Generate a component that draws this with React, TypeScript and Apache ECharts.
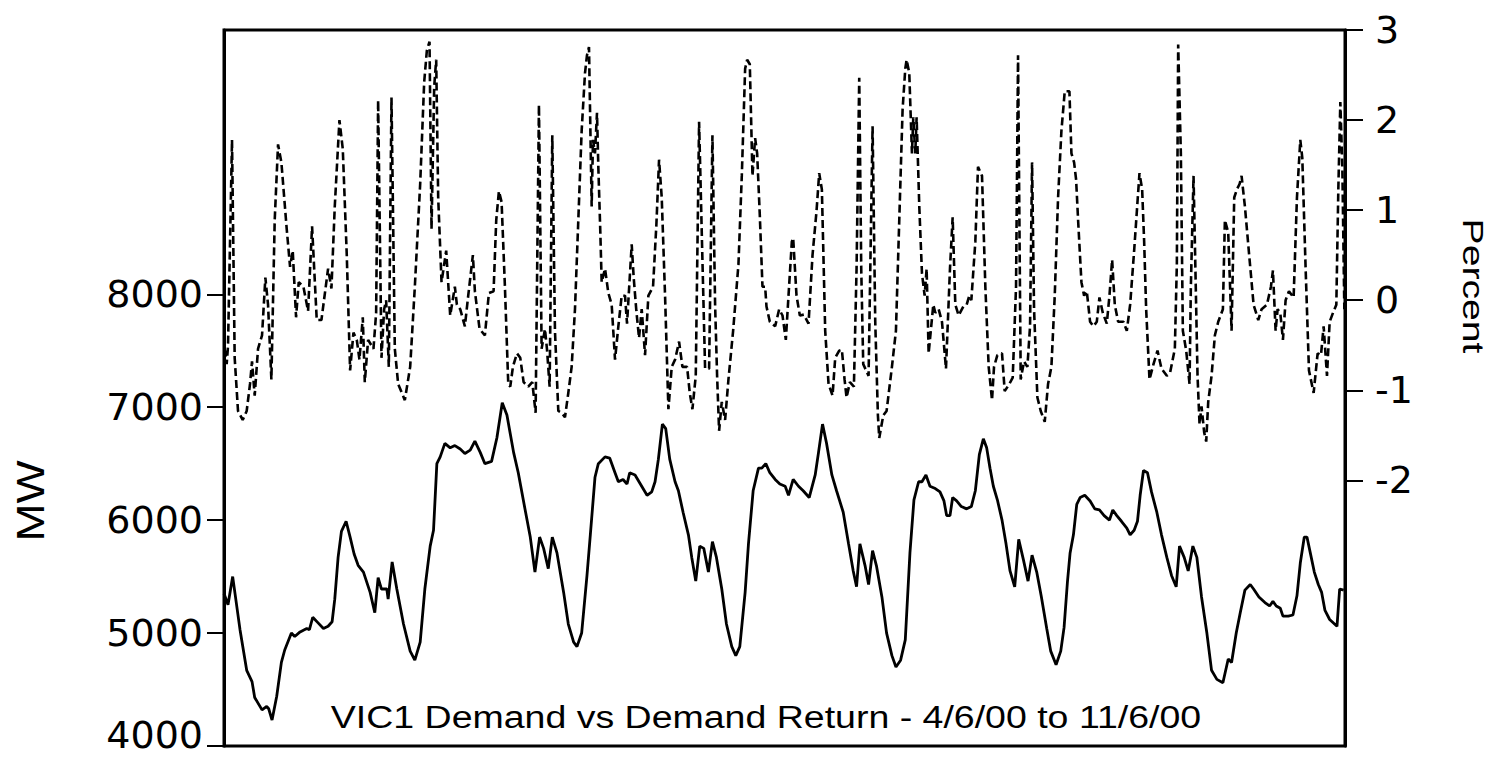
import React, { useEffect, useRef } from "react";
import * as echarts from "echarts";

// Demand (MW), [hour from start, MW]
const demand: [number, number][] = [
  [0.0,5350],[0.6,5250],[1.3,5500],[2.4,5030],[3.4,4670],[4.2,4570],[4.6,4430],[5.7,4320],[6.4,4350],[6.7,4330],
  [7.2,4230],[7.9,4440],[8.6,4740],[9.1,4850],[10.1,5000],[10.6,4970],[11.4,5010],[12.4,5040],[12.8,5030],[13.3,5140],
  [14.1,5090],[14.9,5040],[15.6,5060],[16.2,5100],[16.6,5300],[17.1,5670],[17.6,5900],[18.3,5990],[18.9,5850],[19.5,5700],
  [20.1,5600],[20.9,5540],[21.9,5360],[22.6,5180],[23.1,5490],[23.6,5390],[24.4,5390],[24.6,5300],[25.2,5630],[25.9,5390],
  [26.9,5080],[27.9,4840],[28.6,4760],[29.4,4920],[30.1,5390],[30.9,5770],[31.4,5910],[31.9,6500],[32.4,6560],[33.1,6680],
  [33.9,6640],[34.6,6660],[35.4,6630],[36.1,6590],[36.9,6620],[37.6,6700],[38.4,6600],[39.1,6500],[40.1,6520],[40.9,6730],
  [41.7,7040],[42.4,6930],[43.4,6600],[44.1,6420],[45.1,6100],[45.9,5850],[46.6,5540],[47.3,5850],[47.9,5750],[48.6,5570],
  [49.2,5850],[49.9,5710],[50.9,5360],[51.6,5080],[52.4,4920],[52.9,4880],[53.6,5000],[54.4,5510],[54.9,5870],[55.6,6380],
  [56.1,6500],[57.1,6560],[57.8,6550],[58.6,6420],[59.1,6340],[59.8,6360],[60.4,6320],[60.8,6420],[61.6,6400],[62.4,6320],
  [63.4,6220],[64.1,6250],[64.6,6340],[65.1,6540],[65.7,6850],[66.2,6810],[66.8,6540],[67.6,6340],[68.1,6260],[68.8,6070],
  [69.6,5870],[70.1,5670],[70.7,5460],[71.3,5770],[71.9,5750],[72.6,5540],[73.2,5810],[73.8,5670],[74.6,5390],[75.3,5080],
  [76.1,4880],[76.7,4800],[77.3,4880],[78.1,5360],[78.6,5790],[79.3,6260],[80.1,6460],[80.6,6460],[81.2,6500],[81.8,6420],
  [82.6,6360],[83.3,6320],[84.1,6300],[84.6,6220],[85.3,6360],[86.1,6300],[86.8,6260],[87.7,6200],[88.6,6400],[89.1,6600],
  [89.7,6850],[90.3,6680],[91.1,6400],[91.8,6260],[92.8,6070],[93.6,5790],[94.3,5550],[94.8,5410],[95.3,5790],[96.1,5590],
  [96.6,5430],[97.2,5730],[97.8,5590],[98.6,5320],[99.3,5000],[100.1,4800],[100.7,4700],[101.4,4760],[102.1,4940],[102.8,5710],
  [103.4,6180],[104.1,6340],[104.6,6340],[105.2,6400],[105.8,6300],[106.6,6280],[107.3,6250],[107.9,6170],[108.3,6040],[108.8,6040],
  [109.2,6200],[109.8,6170],[110.5,6120],[111.3,6100],[112.0,6120],[112.6,6260],[113.2,6580],[113.8,6720],[114.3,6640],[114.8,6460],
  [115.3,6300],[115.9,6180],[116.6,6000],[117.2,5790],[117.8,5550],[118.5,5410],[119.1,5830],[119.8,5650],[120.5,5460],[121.1,5690],
  [121.8,5540],[122.5,5320],[123.3,5040],[123.9,4840],[124.7,4720],[125.4,4840],[125.9,5050],[126.4,5450],[126.8,5710],[127.3,5870],
  [127.8,6140],[128.3,6200],[129.0,6220],[129.8,6170],[130.5,6100],[131.2,6090],[131.9,6040],[132.7,6000],[133.2,6090],[133.8,6040],
  [134.5,5990],[135.3,5930],[135.8,5870],[136.4,5910],[136.9,5990],[137.3,6220],[137.8,6440],[138.4,6420],[139.0,6250],[139.8,6070],
  [140.5,5870],[141.3,5670],[142.0,5510],[142.7,5410],[143.2,5770],[143.9,5670],[144.5,5550],[145.2,5770],[145.8,5670],[146.5,5320],
  [147.3,5000],[148.0,4670],[148.8,4590],[149.7,4560],[150.5,4770],[151.0,4740],[151.7,5000],[152.3,5180],[153.0,5380],[153.8,5430],
  [154.3,5390],[155.1,5320],[156.0,5270],[156.7,5240],[157.2,5280],[157.7,5240],[158.3,5220],[158.7,5150],[159.5,5150],[160.2,5160],
  [160.8,5330],[161.3,5620],[161.9,5850],[162.3,5850],[162.8,5710],[163.4,5540],[164.0,5430],[164.5,5360],[165.0,5200],[165.7,5120],
  [166.8,5060],[167.2,5390],[167.8,5380]
];

// Demand return (%), [hour from start, percent]
const demandReturn: [number, number][] = [
  [0.1,-0.54],[0.4,-0.71],[0.6,-0.51],[1.2,1.78],[1.6,-0.64],[2.1,-1.23],[2.8,-1.33],[3.4,-1.23],[3.9,-0.93],[4.2,-0.68],
  [4.6,-1.06],[5.1,-0.54],[5.7,-0.39],[6.2,0.25],[6.6,-0.05],[7.1,-0.88],[7.6,0.89],[8.1,1.73],[8.6,1.53],[9.4,0.79],
  [9.9,0.37],[10.3,0.55],[10.8,-0.19],[11.2,0.2],[11.9,0.15],[12.6,-0.12],[13.2,0.82],[13.9,-0.22],[14.6,-0.22],[15.6,0.35],
  [16.1,0.13],[16.6,1.04],[17.3,2.0],[17.8,1.68],[18.4,0.5],[18.9,-0.78],[19.4,-0.36],[19.9,-0.44],[20.3,-0.66],[20.8,-0.19],
  [21.1,-0.91],[21.6,-0.44],[22.4,-0.54],[22.8,-0.14],[23.1,2.22],[23.6,-0.64],[24.0,-0.1],[24.3,0.0],[24.7,-0.74],[25.1,2.25],
  [25.6,-0.54],[26.1,-0.93],[27.1,-1.11],[27.9,-0.74],[28.6,0.15],[29.4,1.29],[30.0,2.42],[30.4,2.77],[30.8,2.87],[31.1,0.79],
  [31.5,2.37],[31.8,2.67],[32.1,1.14],[32.6,0.2],[33.3,0.55],[33.9,-0.17],[34.6,0.15],[34.9,-0.05],[35.4,-0.1],[36.1,-0.29],
  [36.6,0.05],[37.3,0.5],[37.6,0.1],[38.3,-0.32],[39.1,-0.39],[39.7,0.08],[40.4,0.1],[40.8,0.89],[41.2,1.21],[41.6,1.09],
  [42.1,0.15],[42.6,-0.93],[42.9,-0.96],[43.3,-0.74],[43.9,-0.59],[44.4,-0.64],[44.9,-0.91],[45.6,-0.96],[46.2,-0.91],[46.7,-1.25],
  [47.2,2.17],[47.6,-0.54],[48.1,-0.32],[48.4,-0.54],[48.8,-0.96],[49.2,1.83],[49.6,-0.34],[50.1,-1.23],[50.6,-1.25],[51.1,-1.3],
  [51.6,-1.03],[52.1,-0.74],[52.6,-0.1],[53.1,0.89],[53.6,1.88],[54.1,2.52],[54.4,2.72],[54.7,2.81],[55.1,1.04],[55.3,1.78],
  [55.6,1.63],[55.9,2.08],[56.1,1.48],[56.4,0.75],[56.6,0.2],[57.1,0.35],[57.6,0.08],[58.1,-0.05],[58.6,-0.66],[59.1,-0.29],
  [59.6,0.05],[60.1,0.05],[60.4,-0.26],[61.1,0.62],[61.4,0.25],[61.8,-0.12],[62.2,-0.42],[62.6,-0.1],[63.1,-0.61],[63.6,0.05],
  [64.3,0.15],[64.8,0.84],[65.2,1.56],[65.6,1.14],[66.1,0.05],[66.6,-1.21],[67.1,-0.74],[67.6,-0.66],[68.2,-0.46],[68.7,-0.74],
  [69.4,-0.74],[69.8,-1.03],[70.2,-1.21],[70.7,-0.84],[71.2,1.98],[71.6,0.75],[72.1,-0.76],[72.7,-0.76],[73.2,1.83],[73.6,-0.05],
  [73.9,-0.84],[74.2,-1.45],[74.6,-1.13],[75.1,-1.33],[75.6,-0.88],[76.3,-0.34],[77.1,0.4],[77.6,1.38],[78.1,2.57],[78.4,2.67],
  [78.8,2.62],[79.2,1.38],[79.6,1.8],[79.9,1.63],[80.3,0.94],[80.7,0.15],[81.1,0.15],[81.3,-0.07],[81.8,-0.24],[82.6,-0.29],
  [83.2,-0.1],[83.7,-0.17],[84.2,-0.44],[84.6,0.05],[85.1,0.65],[85.3,0.69],[85.8,0.05],[86.3,-0.17],[86.9,-0.16],[87.6,-0.26],
  [88.2,0.5],[88.8,0.99],[89.2,1.41],[89.6,1.23],[90.1,-0.34],[90.6,-0.93],[91.2,-1.06],[91.6,-0.64],[92.2,-0.56],[92.6,-0.55],
  [93.0,-0.88],[93.3,-1.08],[93.8,-0.91],[94.4,-0.96],[94.8,0.35],[95.2,2.47],[95.5,0.35],[95.8,-0.71],[96.6,-0.84],[97.2,1.93],
  [97.6,-0.24],[98.0,-1.28],[98.2,-1.53],[98.8,-1.28],[99.3,-1.23],[100.1,-0.74],[100.7,-0.34],[101.2,0.89],[101.7,2.12],[102.1,2.57],
  [102.3,2.67],[102.7,2.52],[103.1,1.63],[103.3,2.03],[103.6,1.63],[103.8,2.03],[104.2,1.04],[104.6,0.3],[105.0,0.05],[105.3,0.35],
  [105.6,-0.59],[106.3,-0.05],[106.6,-0.14],[107.1,-0.1],[107.6,-0.24],[108.2,-0.76],[108.8,0.35],[109.2,0.92],[109.6,-0.05],[110.1,-0.17],
  [110.8,-0.07],[111.3,-0.05],[111.7,0.05],[112.0,0.0],[112.6,0.65],[113.0,1.48],[113.6,1.38],[114.1,0.15],[114.6,-0.74],[115.1,-1.11],
  [115.4,-0.74],[115.9,-0.61],[116.6,-0.59],[117.0,-1.01],[117.7,-0.93],[118.2,-0.86],[118.7,0.15],[119.0,2.72],[119.4,-0.88],[119.9,-0.68],
  [120.4,-0.74],[120.8,-0.29],[121.1,1.53],[121.4,-0.1],[121.9,-1.08],[122.4,-1.23],[123.0,-1.35],[123.5,-0.93],[124.0,-0.74],[124.5,0.05],
  [125.0,1.14],[125.5,1.88],[126.0,2.32],[126.7,2.32],[127.0,1.63],[127.4,1.53],[127.7,1.34],[128.0,0.89],[128.5,0.2],[128.9,0.05],
  [129.3,0.1],[129.8,-0.24],[130.3,-0.29],[130.8,-0.24],[131.2,0.03],[131.7,-0.14],[132.3,-0.26],[132.7,0.05],[133.1,0.45],[133.5,-0.05],
  [134.0,-0.24],[134.8,-0.24],[135.3,-0.34],[135.8,-0.05],[136.4,0.55],[136.9,1.09],[137.2,1.41],[137.6,1.23],[137.9,0.65],[138.2,-0.1],
  [138.7,-0.88],[139.3,-0.71],[139.9,-0.56],[140.5,-0.76],[141.3,-0.84],[141.8,-0.8],[142.5,-0.54],[142.8,0.4],[143.0,2.84],[143.4,1.63],
  [143.7,-0.34],[144.2,-0.56],[144.7,-0.93],[144.9,0.15],[145.3,1.38],[145.5,0.65],[145.9,-0.84],[146.2,-1.38],[146.5,-1.18],[146.9,-1.47],
  [147.2,-1.57],[147.5,-1.13],[148.0,-0.84],[148.5,-0.39],[149.0,-0.24],[149.7,-0.1],[150.0,0.89],[150.5,0.75],[151.0,-0.34],[151.4,1.14],
  [151.8,1.23],[152.2,1.29],[152.5,1.38],[153.0,1.04],[153.7,0.45],[154.3,-0.05],[155.0,-0.22],[155.5,-0.1],[156.3,-0.05],[156.9,0.15],
  [157.2,0.33],[157.6,-0.34],[157.9,-0.1],[158.3,-0.14],[158.7,-0.44],[159.1,0.0],[159.6,0.1],[160.3,0.03],[160.8,1.14],[161.3,1.78],
  [161.6,1.58],[162.1,0.35],[162.6,-0.78],[163.3,-1.03],[163.9,-0.59],[164.4,-0.61],[164.8,-0.29],[165.3,-0.84],[165.7,-0.24],[166.2,-0.14],
  [166.7,-0.05],[167.0,1.23],[167.3,2.2],[167.6,1.48],[167.9,-0.1]
];

const mwTicks = [4000, 5000, 6000, 7000, 8000];
const pctTicks = [-2, -1, 0, 1, 2, 3];
const titleText = "VIC1 Demand vs Demand Return - 4/6/00 to 11/6/00";
const leftName = "MW";
const rightName = "Percent";

export default function App() {
  const ref = useRef<HTMLDivElement>(null);
  useEffect(() => {
    document.body.style.margin = "0";
    document.body.style.overflow = "hidden";
    const chart = echarts.init(ref.current!, null, { renderer: "svg" });
    const labelFont = "DejaVu Sans";
    chart.setOption({
      animation: false,
      backgroundColor: "#fff",
      grid: {
        left: 224,
        right: 154,
        top: 30,
        bottom: 11,
        show: true,
        borderColor: "#000",
        borderWidth: 3,
        backgroundColor: "transparent",
      },
      xAxis: { type: "value", min: 0, max: 168, show: false },
      yAxis: [
        {
          type: "value",
          position: "left",
          min: 4000,
          max: 10340,
          axisLine: { show: true, lineStyle: { color: "#000", width: 3 } },
          axisTick: {
            show: true,
            inside: false,
            length: 17,
            lineStyle: { color: "#000", width: 2 },
            customValues: mwTicks,
          },
          axisLabel: {
            customValues: mwTicks,
            color: "#000",
            fontSize: 38,
            fontFamily: labelFont,
            margin: 21,
            formatter: (v: number) => (v === mwTicks[0] ? "{low|" + String(v) + "}" : String(v)),
            rich: {
              low: {
                fontSize: 38,
                fontFamily: labelFont,
                color: "#000",
                padding: [0, 0, 22, 0],
              },
            },
          },
          splitLine: { show: false },
        },
        {
          type: "value",
          position: "right",
          min: -4.95,
          max: 3,
          axisLine: { show: true, lineStyle: { color: "#000", width: 3 } },
          axisTick: {
            show: true,
            inside: false,
            length: 18,
            lineStyle: { color: "#000", width: 2 },
            customValues: pctTicks,
          },
          axisLabel: {
            customValues: pctTicks,
            color: "#000",
            fontSize: 38,
            fontFamily: labelFont,
            margin: 30,
            formatter: (v: number) => String(v),
          },
          splitLine: { show: false },
        },
      ],
      graphic: [
        {
          type: "text",
          x: 766,
          y: 717,
          scaleX: 1.21,
          style: {
            text: titleText,
            fontSize: 31,
            fontFamily: "Liberation Sans",
            fill: "#000",
            align: "center",
            verticalAlign: "middle",
          },
        },
        {
          type: "text",
          x: 31,
          y: 501,
          rotation: Math.PI / 2,
          scaleX: 1.2,
          style: {
            text: leftName,
            fontSize: 38,
            fontFamily: "Liberation Sans",
            fill: "#000",
            align: "center",
            verticalAlign: "middle",
          },
        },
        {
          type: "text",
          x: 1473,
          y: 286,
          rotation: -Math.PI / 2,
          scaleX: 1.35,
          style: {
            text: rightName,
            fontSize: 29,
            fontFamily: "Liberation Sans",
            fill: "#000",
            align: "center",
            verticalAlign: "middle",
          },
        },
      ],
      series: [
        {
          name: "Demand",
          type: "line",
          yAxisIndex: 0,
          data: demand,
          showSymbol: false,
          symbol: "none",
          lineStyle: { color: "#000", width: 2.8 },
          z: 3,
        },
        {
          name: "Demand Return",
          type: "line",
          yAxisIndex: 1,
          data: demandReturn,
          showSymbol: false,
          symbol: "none",
          lineStyle: { color: "#000", width: 2.6, type: [8, 4] },
          z: 2,
        },
      ],
    });
    return () => chart.dispose();
  }, []);
  return <div ref={ref} style={{ width: 1499, height: 757 }} />;
}
